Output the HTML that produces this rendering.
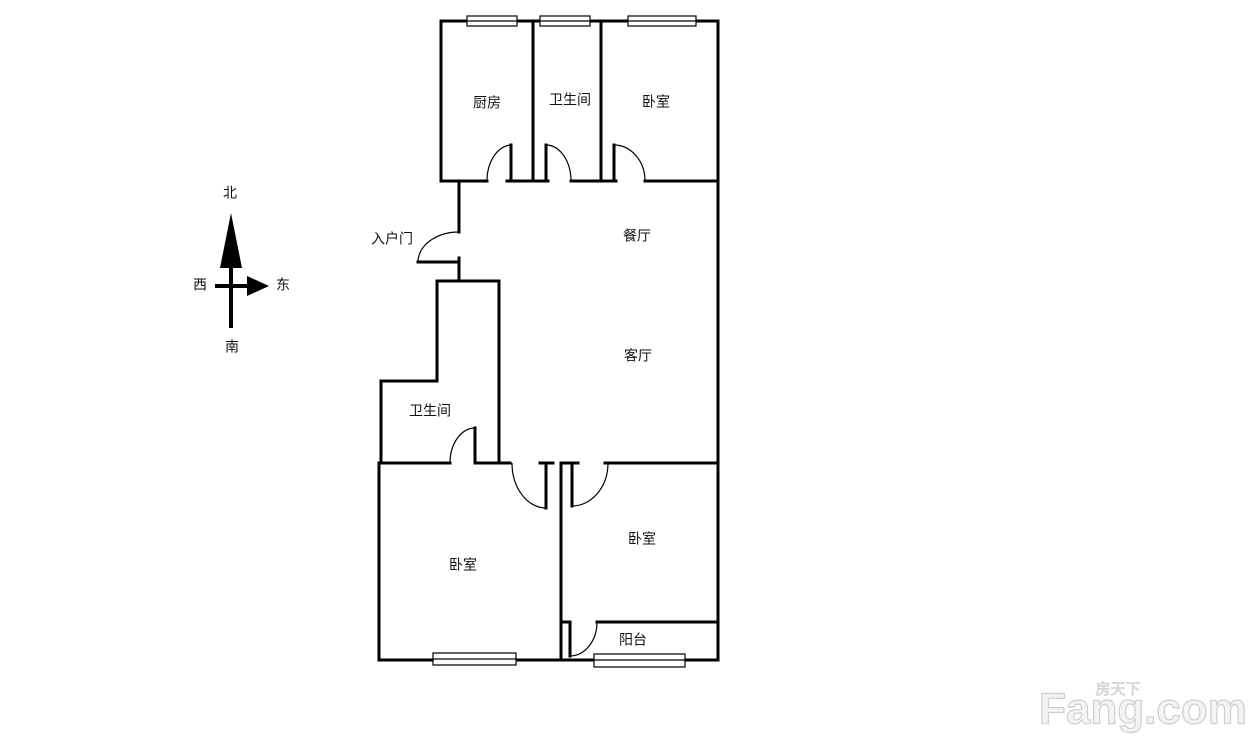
<!DOCTYPE html>
<html><head><meta charset="utf-8"><style>
body{margin:0;background:#fff;}
svg{display:block;}
text{font-family:"Liberation Sans","Noto Sans CJK SC",sans-serif;font-size:14px;fill:#111;text-anchor:middle;dominant-baseline:middle;}
</style></head><body>
<svg width="1251" height="750" viewBox="0 0 1251 750" xmlns="http://www.w3.org/2000/svg">
<g stroke="#000" stroke-width="3" fill="none" stroke-linecap="square">
<path d="M441 21 H718 V660"/>
<path d="M441 21 V181 H487"/>
<path d="M507 181 H533"/>
<path d="M533 21 V181 H548"/>
<path d="M571 181 H601"/>
<path d="M601 21 V181 H616"/>
<path d="M645 181 H718"/>
<path d="M511 145 V181 M546 145 V181 M614 145 V181"/>
<path d="M459 181 V232 M459 258 V281"/>
<path d="M418 262 H459"/>
<path d="M437 281 H499 V463 M437 281 V381 H381 V463"/>
<path d="M379 463 H450 M475 463 H510 M540 463 H553 M562 463 H578 M605 463 H718"/>
<path d="M475 428 V463 M546 463 V508 M572 463 V506"/>
<path d="M379 463 V660 H718"/>
<path d="M561 463 V660"/>
<path d="M561 622 H570 M597 622 H718"/>
<path d="M570 622 V656"/>
</g>
<g stroke="#000" stroke-width="1.2" fill="none">
<path d="M487 181 A25 36 0 0 1 511 145"/>
<path d="M546 145 A25 36 0 0 1 571 181"/>
<path d="M614 145 A31 36 0 0 1 645 181"/>
<path d="M418 262 A41 30 0 0 1 459 232"/>
<path d="M450 463 A25 35 0 0 1 475 428"/>
<path d="M512 463 A34 45 0 0 0 546 508"/>
<path d="M572 506 A36 43 0 0 0 608 463"/>
<path d="M570 656 A27 34 0 0 0 597 622"/>
</g>
<g stroke="#000" stroke-width="1.2" fill="#fff">
<rect x="467" y="16" width="50" height="10"/><line x1="467" y1="21" x2="517" y2="21"/>
<rect x="540" y="16" width="50" height="10"/><line x1="540" y1="21" x2="590" y2="21"/>
<rect x="628" y="16" width="68" height="10"/><line x1="628" y1="21" x2="696" y2="21"/>
<rect x="433" y="653" width="83" height="12"/><line x1="433" y1="659" x2="516" y2="659"/>
<rect x="594" y="654" width="91" height="13"/><line x1="594" y1="660" x2="685" y2="660"/>
</g>
<g fill="#000" stroke="#000">
<line x1="231" y1="250" x2="231" y2="328" stroke-width="4"/>
<polygon points="231,213 220,268 242,268" stroke="none"/>
<line x1="215" y1="286" x2="252" y2="286" stroke-width="4"/>
<polygon points="269,286 247,276 247,296" stroke="none"/>
</g>
<text x="230" y="194">北</text><text x="200" y="286">西</text><text x="283" y="286">东</text><text x="232" y="348">南</text>
<text x="487" y="104">厨房</text><text x="570" y="101">卫生间</text><text x="656" y="103">卧室</text>
<text x="392" y="240">入户门</text><text x="637" y="237">餐厅</text><text x="638" y="357">客厅</text>
<text x="430" y="412">卫生间</text><text x="463" y="566">卧室</text><text x="642" y="540">卧室</text><text x="633" y="641">阳台</text>
<text x="1143" y="712" style="font-size:44px;font-weight:bold;fill:#f4f4f4;stroke:#cfcfcf;stroke-width:1.2">Fang.com</text>
<text x="1118" y="690" style="font-size:15px;fill:#eee;stroke:#c8c8c8;stroke-width:0.6">房天下</text>
</svg>
</body></html>
